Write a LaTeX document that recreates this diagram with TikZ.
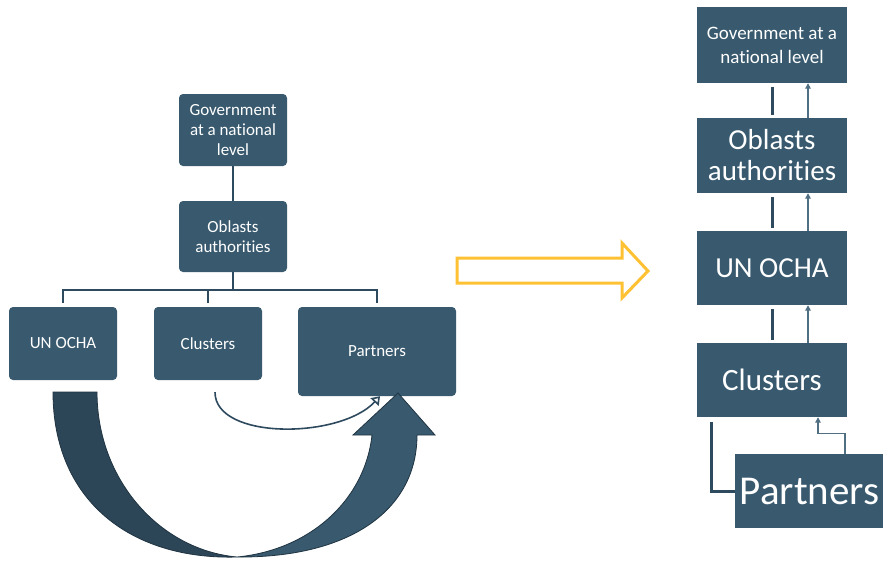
\documentclass[tikz,border=0pt]{standalone}
\usepackage{fontspec}
\setmainfont{Carlito}[Ligatures=NoCommon]
\usetikzlibrary{arrows.meta}
\definecolor{boxblue}{HTML}{38596E}
\definecolor{boxdark}{HTML}{2C4658}
\definecolor{linkblue}{HTML}{2E4A5E}
\definecolor{thinblue}{HTML}{506F83}
\definecolor{arrowgold}{HTML}{FFC134}

\begin{document}
\begin{tikzpicture}[
    x=1pt, y=-1pt,
    box/.style={rectangle, fill=boxblue, text=white, inner sep=0pt, align=center},
    roundbox/.style={box, rounded corners=4pt, minimum width=108pt, minimum height=73pt, font=\fontsize{17}{20}\selectfont},
    bigbox/.style={box, minimum width=150pt, minimum height=74pt},
    link/.style={draw=linkblue, line width=2pt},
    thicklink/.style={draw=linkblue, line width=3pt},
    thinlink/.style={draw=thinblue, line width=1.3pt, -{Triangle[width=5.5pt,length=5.5pt]}}
]
\useasboundingbox (0,0) rectangle (883,565);

% Left hierarchy
\node[roundbox, minimum height=72pt] (gov) at (233,130) {Government\\at a national\\level};
\node[roundbox, minimum height=71pt] (obl) at (233,236.5) {Oblasts\\authorities};
\node[roundbox] (ocha) at (63,343.5) {UN OCHA};
\node[roundbox] (clu) at (208,343.5) {Clusters};
\node[roundbox, minimum width=158pt, minimum height=89pt] (par) at (377,351.5) {Partners};

% Tree lines
\draw[link] (gov) -- (obl);
\draw[link] (obl.south) -- ++(0,18);
\draw[link] ([yshift=4pt]ocha.north) |- ([yshift=17pt]par.north) -- ([yshift=4pt]par.north);
\draw[link] ([yshift=17pt]clu.north) -- ([yshift=4pt]clu.north);

% Clusters to partners
\draw[link, line width=1.6pt, -{Triangle[open, width=11pt, length=8pt]}]
    ([shift={(7pt,-12pt)}]clu.south) .. controls +(0,48) and +(-40,43) .. ([xshift=3pt]par.south);

% Big curved arrow from UN OCHA to partners
\filldraw[fill=boxdark, draw=linkblue!70!black, line width=0.8pt]
    (53,392) -- (97,392) .. controls (97,480) and (160,550) .. (237,557)
    .. controls (130,560) and (53,500) .. (53,392) -- cycle;
\filldraw[fill=boxblue, draw=linkblue!70!black, line width=0.8pt]
    (237,557) .. controls (350,558) and (417,510) .. (417,435)
    -- (435,435) -- (398,393) -- (353,435) -- (372,435)
    .. controls (365,500) and (310,550) .. (237,557) -- cycle;

% Transition arrow
\draw[arrowgold, line width=3pt, line join=miter]
    (457,258) -- (622,258) -- (622,243) -- (648,271) -- (622,298) -- (622,283) -- (457,283) -- cycle;

% Right chain
\node[bigbox, minimum height=76pt, font=\fontsize{19}{24}\selectfont] (rgov) at (772,45) {Government at a\\national level};
\node[bigbox, minimum height=75pt, font=\fontsize{29}{31}\selectfont] (robl) at (772,155.5) {Oblasts\\authorities};
\node[bigbox, font=\fontsize{29}{31}\selectfont] (rocha) at (772,268) {UN OCHA};
\node[bigbox, font=\fontsize{31}{33}\selectfont] (rclu) at (772,380) {Clusters};
\node[bigbox, minimum width=149pt, font=\fontsize{41}{44}\selectfont] (rpar) at (809.5,491) {Partners};

% Right connections
\draw[thicklink] ([yshift=3pt]robl.north) -- ([yshift=-4pt]rgov.south);
\draw[thicklink] ([yshift=3pt]rocha.north) -- ([yshift=-4pt]robl.south);
\draw[thicklink] ([yshift=3pt]rclu.north) -- ([yshift=-4pt]rocha.south);
\draw[thicklink] ([xshift=-61pt,yshift=-5pt]rclu.south) |- (rpar.west);

\draw[thinlink] ([xshift=36pt]robl.north) -- ([xshift=36pt]rgov.south);
\draw[thinlink] ([xshift=36pt]rocha.north) -- ([xshift=36pt]robl.south);
\draw[thinlink] ([xshift=36pt]rclu.north) -- ([xshift=36pt]rocha.south);
\draw[thinlink] ([xshift=35.5pt]rpar.north) -- ([xshift=35.5pt,yshift=20pt]rpar.north) -| ([xshift=46pt]rclu.south);

\end{tikzpicture}
\end{document}
